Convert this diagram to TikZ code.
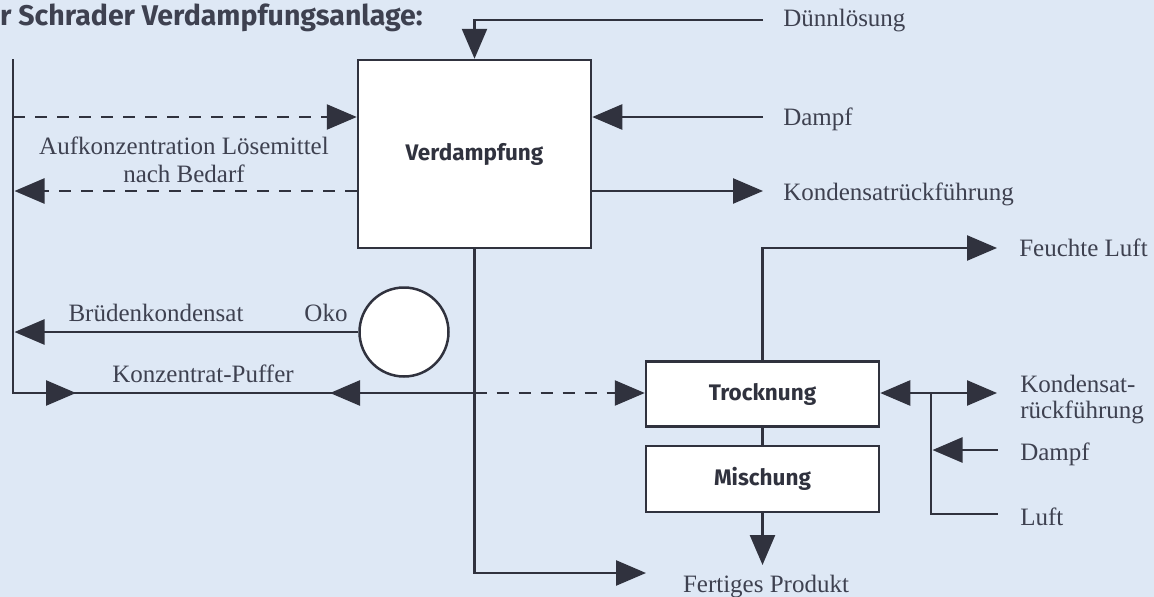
\documentclass[tikz,border=0pt]{standalone}
\usepackage{fontspec}
\setmainfont{Liberation Serif}
\setsansfont{Fira Sans}
\usetikzlibrary{arrows.meta}
\definecolor{bg}{RGB}{222,232,245}
\definecolor{ink}{RGB}{48,50,62}
\definecolor{txt}{RGB}{62,65,80}
\begin{document}
\begin{tikzpicture}[x=1pt,y=-1pt,line width=2.5pt,color=ink,
  tip/.style={-{Triangle[length=30pt,width=25pt]}},
  dtip/.style={{Triangle[length=30pt,width=25pt]}-{Triangle[length=30pt,width=25pt]}},
  dashline/.style={dash pattern=on 12pt off 10pt},
  box/.style={draw=ink,fill=white,line width=2.5pt,inner sep=0pt,
    font=\sffamily\bfseries\fontsize{22.5}{24}\selectfont,text=ink},
  lbl/.style={inner sep=0pt,text=txt,font=\fontsize{25}{28}\selectfont,
    text height=16.5pt,text depth=0pt},
  mlbl/.style={inner sep=0pt,text=txt}]
\fill[bg] (0,0) rectangle (1154,597);
\useasboundingbox (0,0) rectangle (1154,597);
% title
\node[anchor=base west,inner sep=0pt,text=txt,font=\sffamily\bfseries\fontsize{28.5}{31}\selectfont] (title) at (-1,25) {r Schrader Verdampfungsanlage:};
% boxes
\node[box,minimum width=233pt,minimum height=188pt] (verd) at (474.5,154) {Verdampfung};
\node[box,minimum width=233pt,minimum height=65pt] (troc) at (762.5,394) {Trocknung};
\node[box,minimum width=233pt,minimum height=66pt] (misch) at (762.5,479) {Mischung};
\node[draw=ink,fill=white,circle,minimum size=89pt,inner sep=0pt] (oko) at (404,332) {};
% coordinates
\coordinate (lt) at (13,59);
\coordinate (lb) at (13,393);
\coordinate (jn) at (474.5,393);
\coordinate (c-dl) at (763,20);
\coordinate (c-dampf) at (763,117);
\coordinate (c-kr) at (763,191);
\coordinate (c-fl) at (997,248);
\coordinate (c-fp) at (646,573);
\coordinate (c-da) at (13,117);
\coordinate (c-db) at (14.5,191);
\coordinate (c-bk) at (14.5,332);
\coordinate (c-rk) at (997,393);
\coordinate (c-v) at (931,393);
\coordinate (c-luft) at (998,514);
\coordinate (c-rd) at (998,450);
% labels
\node[lbl,anchor=west] (l-dl) at (782,18) {Dünnlösung};
\node[lbl,anchor=west] (l-dampf) at (782,117) {Dampf};
\node[lbl,anchor=west] (l-kr) at (782,192) {Kondensatrückführung};
\node[lbl,anchor=west] (l-fl) at (1018,248) {Feuchte Luft};
\node[mlbl,align=center,font=\fontsize{25}{28}\selectfont] (l-auf) at (184,159.5) {Aufkonzentration Lösemittel\\nach Bedarf};
\node[lbl] (l-bk) at (156,313) {Brüdenkondensat};
\node[lbl] (l-oko) at (326,313) {Oko};
\node[lbl] (l-kp) at (203,374) {Konzentrat-Puffer};
\node[mlbl,anchor=west,align=left,font=\fontsize{25}{25.5}\selectfont] (l-rk) at (1019,399.5) {Kondensat-\\rückführung};
\node[lbl,anchor=west] (l-rd) at (1019,452) {Dampf};
\node[lbl,anchor=west] (l-luft) at (1019,517) {Luft};
\node[lbl] (l-fp) at (766,584) {Fertiges Produkt};
% connectors top
\draw[tip] (c-dl) -| (verd.north);
\draw[tip] (c-dampf) -- (c-dampf -| verd.east);
\draw[tip] (c-kr -| verd.east) -- (c-kr);
\draw[dashline,tip] (c-da) -- (c-da -| verd.west);
\draw[dashline,tip] (c-db -| verd.west) -- (c-db);
% left loop
\draw (lt) -- (lb) -- (jn);
\draw[tip] (46,393) -- (76,393);
\draw[tip] (360,393) -- (330,393);
\draw[tip] (oko.west) -- (c-bk);
\draw[dashline,tip] (jn) -- (troc.west |- jn);
\draw[tip] (verd.south) |- (c-fp);
% drying
\draw[tip] (troc.north) |- (c-fl);
\draw (troc.south) -- (misch.north);
\draw[tip] (misch.south) -- (misch.south |- 0,565);
\draw[dtip] (troc.east |- c-rk) -- (c-rk);
\draw (c-v) |- (c-luft);
\draw[tip] (c-rd) -- (932.5,450);
\end{tikzpicture}
\end{document}
